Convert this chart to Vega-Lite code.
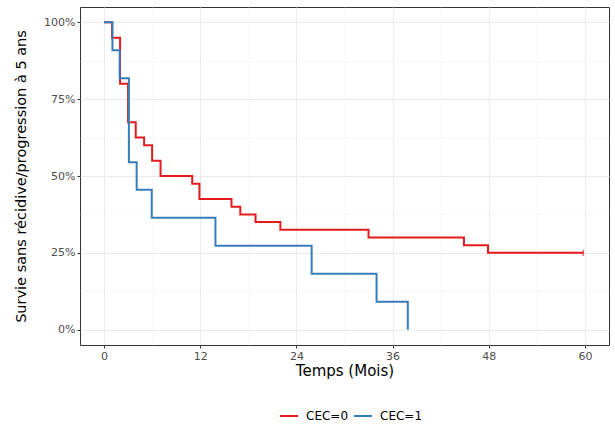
{
  "$schema": "https://vega.github.io/schema/vega-lite/v6.json",
  "width": 529,
  "height": 338,
  "autosize": "none",
  "padding": {"left": 80, "top": 7, "right": 6, "bottom": 91},
  "background": "white",
  "config": {
    "font": "DejaVu Sans",
    "view": {"stroke": "#333333", "strokeWidth": 1}
  },
  "data": {
    "values": [
      {"t": 0, "surv": 1, "group": "CEC=0", "censor": 0},
      {"t": 1, "surv": 0.95, "group": "CEC=0", "censor": 0},
      {"t": 2, "surv": 0.8, "group": "CEC=0", "censor": 0},
      {"t": 3, "surv": 0.675, "group": "CEC=0", "censor": 0},
      {"t": 3.95, "surv": 0.625, "group": "CEC=0", "censor": 0},
      {"t": 5, "surv": 0.6, "group": "CEC=0", "censor": 0},
      {"t": 6, "surv": 0.55, "group": "CEC=0", "censor": 0},
      {"t": 7.05, "surv": 0.5, "group": "CEC=0", "censor": 0},
      {"t": 11, "surv": 0.475, "group": "CEC=0", "censor": 0},
      {"t": 11.9, "surv": 0.425, "group": "CEC=0", "censor": 0},
      {"t": 15.9, "surv": 0.4, "group": "CEC=0", "censor": 0},
      {"t": 17, "surv": 0.375, "group": "CEC=0", "censor": 0},
      {"t": 18.9, "surv": 0.35, "group": "CEC=0", "censor": 0},
      {"t": 22, "surv": 0.325, "group": "CEC=0", "censor": 0},
      {"t": 33, "surv": 0.3, "group": "CEC=0", "censor": 0},
      {"t": 44.9, "surv": 0.275, "group": "CEC=0", "censor": 0},
      {"t": 47.9, "surv": 0.25, "group": "CEC=0", "censor": 0},
      {"t": 59.8, "surv": 0.25, "group": "CEC=0", "censor": 1},
      {"t": 0, "surv": 1, "group": "CEC=1", "censor": 0},
      {"t": 1.05, "surv": 0.909, "group": "CEC=1", "censor": 0},
      {"t": 1.95, "surv": 0.818, "group": "CEC=1", "censor": 0},
      {"t": 3.1, "surv": 0.545, "group": "CEC=1", "censor": 0},
      {"t": 4.07, "surv": 0.455, "group": "CEC=1", "censor": 0},
      {"t": 5.95, "surv": 0.364, "group": "CEC=1", "censor": 0},
      {"t": 13.9, "surv": 0.273, "group": "CEC=1", "censor": 0},
      {"t": 25.9, "surv": 0.182, "group": "CEC=1", "censor": 0},
      {"t": 34, "surv": 0.091, "group": "CEC=1", "censor": 0},
      {"t": 37.9, "surv": 0, "group": "CEC=1", "censor": 0}
    ]
  },
  "layer": [
    {
      "mark": {"type": "line", "opacity": 0},
      "encoding": {
        "x": {
          "field": "t", "type": "quantitative",
          "scale": {"domain": [-3, 63], "nice": false, "zero": false},
          "axis": {"orient": "top", "values": [6, 18, 30, 42, 54], "labels": false, "ticks": false, "domain": false, "title": null, "grid": true, "gridColor": "#F4F4F4", "gridWidth": 0.6}
        },
        "y": {
          "field": "surv", "type": "quantitative",
          "scale": {"domain": [-0.05, 1.05], "nice": false, "zero": false},
          "axis": {"orient": "right", "values": [0.125, 0.375, 0.625, 0.875], "labels": false, "ticks": false, "domain": false, "title": null, "grid": true, "gridColor": "#F4F4F4", "gridWidth": 0.6}
        },
        "detail": {"field": "group"}
      }
    },
    {
      "mark": {"type": "line", "interpolate": "step-after", "strokeWidth": 2},
      "encoding": {
        "x": {
          "field": "t", "type": "quantitative",
          "scale": {"domain": [-3, 63], "nice": false, "zero": false},
          "axis": {"orient": "bottom", "values": [0, 12, 24, 36, 48, 60], "title": "Temps (Mois)", "titleFontSize": 15, "titleFontWeight": "normal", "titleColor": "#000000", "titlePadding": 2, "labelFontSize": 11, "labelColor": "#4D4D4D", "labelPadding": 2, "tickColor": "#333333", "tickSize": 3, "domain": false, "grid": true, "gridColor": "#EBEBEB", "gridWidth": 1}
        },
        "y": {
          "field": "surv", "type": "quantitative",
          "scale": {"domain": [-0.05, 1.05], "nice": false, "zero": false},
          "axis": {"orient": "left", "values": [0, 0.25, 0.5, 0.75, 1], "format": ".0%", "title": "Survie sans récidive/progression à 5 ans", "titleFontSize": 14.5, "titleFontWeight": "normal", "titleColor": "#000000", "titlePadding": 15, "labelFontSize": 11, "labelColor": "#4D4D4D", "labelPadding": 2, "tickColor": "#333333", "tickSize": 3, "domain": false, "grid": true, "gridColor": "#EBEBEB", "gridWidth": 1}
        },
        "color": {
          "field": "group", "type": "nominal",
          "scale": {"domain": ["CEC=0", "CEC=1"], "range": ["#E41A1C", "#377EB8"]},
          "legend": {"orient": "none", "legendX": 199, "legendY": 399, "direction": "horizontal", "title": null, "symbolType": "stroke", "symbolStrokeWidth": 2, "symbolSize": 324, "labelFontSize": 12, "labelColor": "#000000", "columnPadding": 1, "labelOffset": 7}
        }
      }
    },
    {
      "transform": [{"filter": "datum.censor == 1"}],
      "mark": {"type": "tick", "orient": "vertical", "size": 6, "thickness": 1.5},
      "encoding": {
        "x": {"field": "t", "type": "quantitative", "axis": null},
        "y": {"field": "surv", "type": "quantitative", "axis": null},
        "color": {"field": "group", "type": "nominal", "legend": null}
      }
    }
  ],
  "resolve": {"axis": {"x": "independent", "y": "independent"}}
}
